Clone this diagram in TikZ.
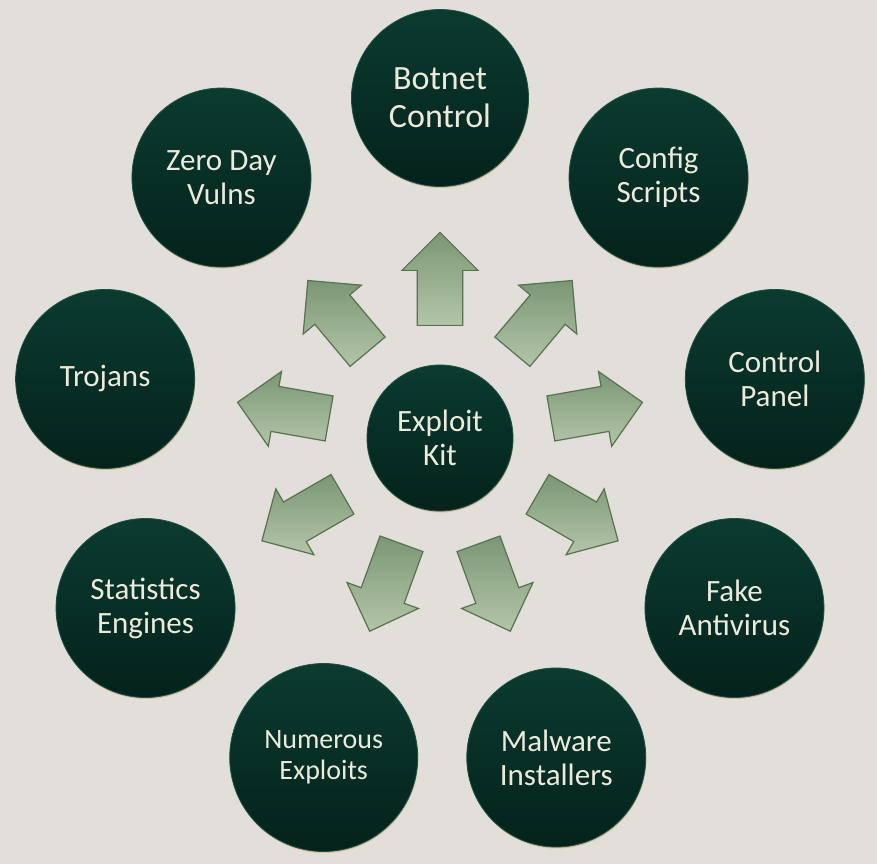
\documentclass[tikz,border=0pt]{standalone}
\usepackage{fontspec}
\setmainfont{Carlito}
\usepackage{xcolor}
\usetikzlibrary{shapes.arrows, shadows, positioning}
\definecolor{paper}{HTML}{E2DEDA}
\definecolor{kitlight}{HTML}{0B3B2F}
\definecolor{kitdark}{HTML}{04221B}
\definecolor{kitrim}{HTML}{1B5442}
\definecolor{kittext}{HTML}{ECEADC}
\definecolor{glow}{HTML}{DDB8A0}
\definecolor{pushlight}{HTML}{B4C5A9}
\definecolor{pushdark}{HTML}{7B9775}
\definecolor{pushedge}{HTML}{56724F}

\begin{document}
\begin{tikzpicture}[x=1pt, y=1pt,
		hub/.style={circle, minimum size=179pt, inner sep=0pt, align=center, text=kittext,
			top color=kitlight, bottom color=kitdark, draw=kitrim, line width=0.8pt,
			drop shadow={fill=glow, opacity=1, shadow xshift=0.5pt, shadow yshift=-1.5pt},
			font=\fontsize{31}{34}\selectfont},
		core/.style={hub, minimum size=146pt},
		push/.style={single arrow, minimum height=93pt, minimum width=76pt,
			inner xsep=0pt, inner ysep=22pt,
			single arrow head extend=15pt, single arrow head indent=0pt,
			draw=pushedge, line width=1.2pt, line join=miter,
			left color=pushdark, right color=pushlight, shading angle=0}
		]
		\path[use as bounding box, fill=paper] (-440, -426) rectangle (437, 438);
		
		\node[core] (kit) at (0, 0) {Exploit\\Kit};
		
		\node[hub, font=\fontsize{34}{38}\selectfont, minimum size=177pt] (botnet) at (90:340) {Botnet\\Control};
		\node[hub] (config) at (50:340) {Config\\Scripts};
		\node[hub] (panel) at (10:340) {Control\\Panel};
		\node[hub] (fakeav) at (-30:340) {Fake\\Antivirus};
		\node[hub] (installer) at (-70:340) {Malware\\Installers};
		\node[hub, font=\fontsize{28}{31}\selectfont, minimum size=188pt] (exploits) at (-110:340) {Numerous\\Exploits};
		\node[hub] (stats) at (-150:340) {Statistics\\Engines};
		\node[hub] (trojans) at (170:340) {Trojans};
		\node[hub] (zeroday) at (130:340) {Zero Day\\Vulns};
		
		\foreach \ang [count=\i] in {90,50,...,-230}
		\node[push, rotate=\ang, anchor=tail] (push\i) at (\ang:112) {};
\end{tikzpicture}
\end{document}
